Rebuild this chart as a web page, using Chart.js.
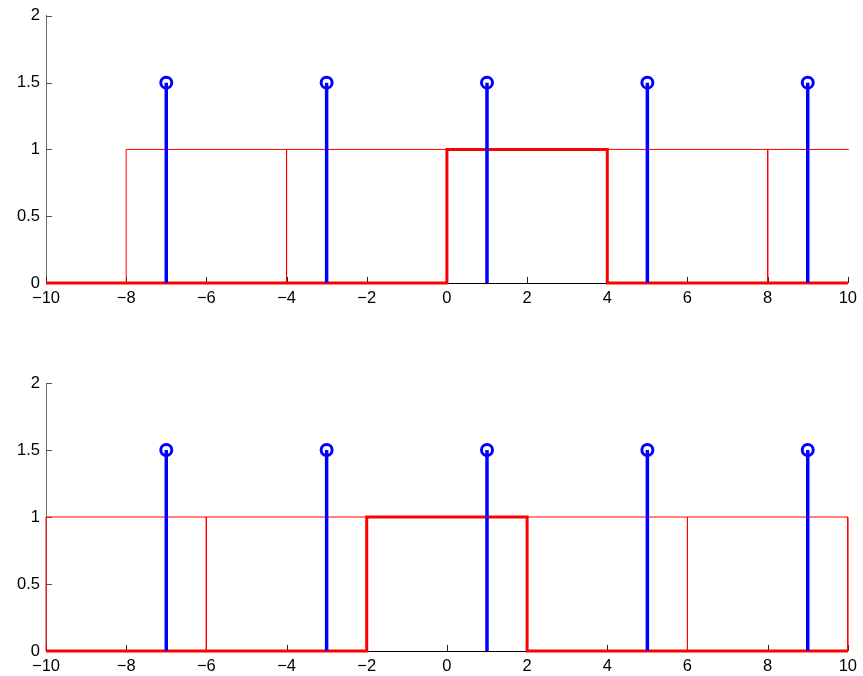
<!DOCTYPE html>
<html>
<head>
<meta charset="utf-8">
<script src="https://cdn.jsdelivr.net/npm/chart.js@4"></script>
<style>
  body { margin: 0; background: #fff; }
  .plot { position: absolute; left: 0; width: 863px; height: 338px; }
</style>
</head>
<body>
<div class="plot" style="top:0"><canvas id="topPlot" width="863" height="338"></canvas></div>
<div class="plot" style="top:338px"><canvas id="bottomPlot" width="863" height="338"></canvas></div>
<script>
// axis ticks
const xTicks = [-10, -8, -6, -4, -2, 0, 2, 4, 6, 8, 10];
const yTicks = [0, 0.5, 1, 1.5, 2];

// blue stems
const stemX = [-7, -3, 1, 5, 9];
const stemY = [1.5, 1.5, 1.5, 1.5, 1.5];

// red pulse: width and height, plus where the bold one starts in each plot
const pulseWidth = 4;
const pulseHeight = 1;
const topPulseStart = 0;
const bottomPulseStart = -2;

// thin shifted copies of the pulse
const topTrainStarts = [-8, -4, 0, 4, 8];
const bottomTrainStarts = [-10, -6, -2, 2, 6];

const minus = v => String(v).replace('-', '\u2212');

function pulsePoints(start) {
  return [
    {x: xTicks[0], y: 0}, {x: start, y: 0}, {x: start, y: pulseHeight},
    {x: start + pulseWidth, y: pulseHeight}, {x: start + pulseWidth, y: 0},
    {x: xTicks[xTicks.length - 1], y: 0}
  ];
}

function trainPoints(starts) {
  const pts = [];
  starts.forEach(s => {
    pts.push({x: s, y: 0}, {x: s, y: pulseHeight}, {x: s + pulseWidth, y: pulseHeight}, {x: s + pulseWidth, y: 0}, {x: s + pulseWidth, y: null});
  });
  return pts;
}

function stemPoints() {
  const pts = [];
  stemX.forEach((x, i) => { pts.push({x: x, y: 0}, {x: x, y: stemY[i]}, {x: x, y: null}); });
  return pts;
}

// ticks pointing into the plot, like the original
const inwardTicks = {
  id: 'inwardTicks',
  beforeDatasetsDraw(chart) {
    const c = chart.ctx, a = chart.chartArea;
    const xs = chart.scales.x, ys = chart.scales.y;
    c.save();
    c.lineWidth = 1;
    c.strokeStyle = '#222';
    xs.ticks.forEach(t => {
      const px = Math.round(xs.getPixelForValue(t.value)) + 0.5;
      c.beginPath(); c.moveTo(px, a.bottom); c.lineTo(px, a.bottom - 6); c.stroke();
    });
    c.strokeStyle = '#555';
    ys.ticks.forEach(t => {
      const py = Math.round(ys.getPixelForValue(t.value)) + 0.5;
      c.beginPath(); c.moveTo(a.left, py); c.lineTo(a.left + 6, py); c.stroke();
    });
    c.restore();
  }
};

const tickFont = {family: 'Liberation Sans, Arial, sans-serif', size: 16.5};

function makePlot(id, pulseStart, trainStarts, padTop, xAxisHeight) {
  const clip = {left: 2, right: 1, top: 8, bottom: 3};
  return new Chart(document.getElementById(id), {
    type: 'scatter',
    data: {
      datasets: [
        {
          data: stemX.map((x, i) => ({x: x, y: stemY[i]})),
          pointRadius: 5.5, pointBorderWidth: 3,
          pointBorderColor: 'rgb(0,0,255)', pointBackgroundColor: 'rgba(0,0,0,0)',
          clip: clip
        },
        {
          data: stemPoints(), showLine: true, pointRadius: 0,
          borderColor: 'rgb(0,0,255)', borderWidth: 3.5, clip: clip
        },
        {
          data: pulsePoints(pulseStart), showLine: true, pointRadius: 0,
          borderColor: 'rgb(255,0,0)', borderWidth: 3, clip: clip
        },
        {
          data: trainPoints(trainStarts), showLine: true, pointRadius: 0,
          borderColor: 'rgb(255,0,0)', borderWidth: 1, clip: clip
        }
      ]
    },
    options: {
      responsive: false,
      animation: false,
      layout: {padding: {top: padTop, right: 11, left: 0, bottom: 0}},
      plugins: {legend: {display: false}, tooltip: {enabled: false}},
      scales: {
        x: {
          type: 'linear', min: -10, max: 10,
          afterBuildTicks: s => { s.ticks = xTicks.map(v => ({value: v})); },
          afterFit: s => { s.height = xAxisHeight; },
          grid: {drawOnChartArea: false, drawTicks: false},
          border: {display: true, color: '#000', width: 1},
          ticks: {
            color: '#000', padding: 6, maxRotation: 0, autoSkip: false,
            font: tickFont,
            callback: v => minus(v)
          }
        },
        y: {
          min: 0, max: 2,
          afterBuildTicks: s => { s.ticks = yTicks.map(v => ({value: v})); },
          afterFit: s => { s.width = 46; },
          grid: {drawOnChartArea: false, drawTicks: false},
          border: {display: true, color: '#6a6a6a', width: 1},
          ticks: {
            color: '#000', padding: 6,
            font: tickFont,
            callback: v => minus(v)
          }
        }
      }
    },
    plugins: [inwardTicks]
  });
}

makePlot('topPlot', topPulseStart, topTrainStarts, 15, 55);
makePlot('bottomPlot', bottomPulseStart, bottomTrainStarts, 45, 25);
</script>
</body>
</html>
